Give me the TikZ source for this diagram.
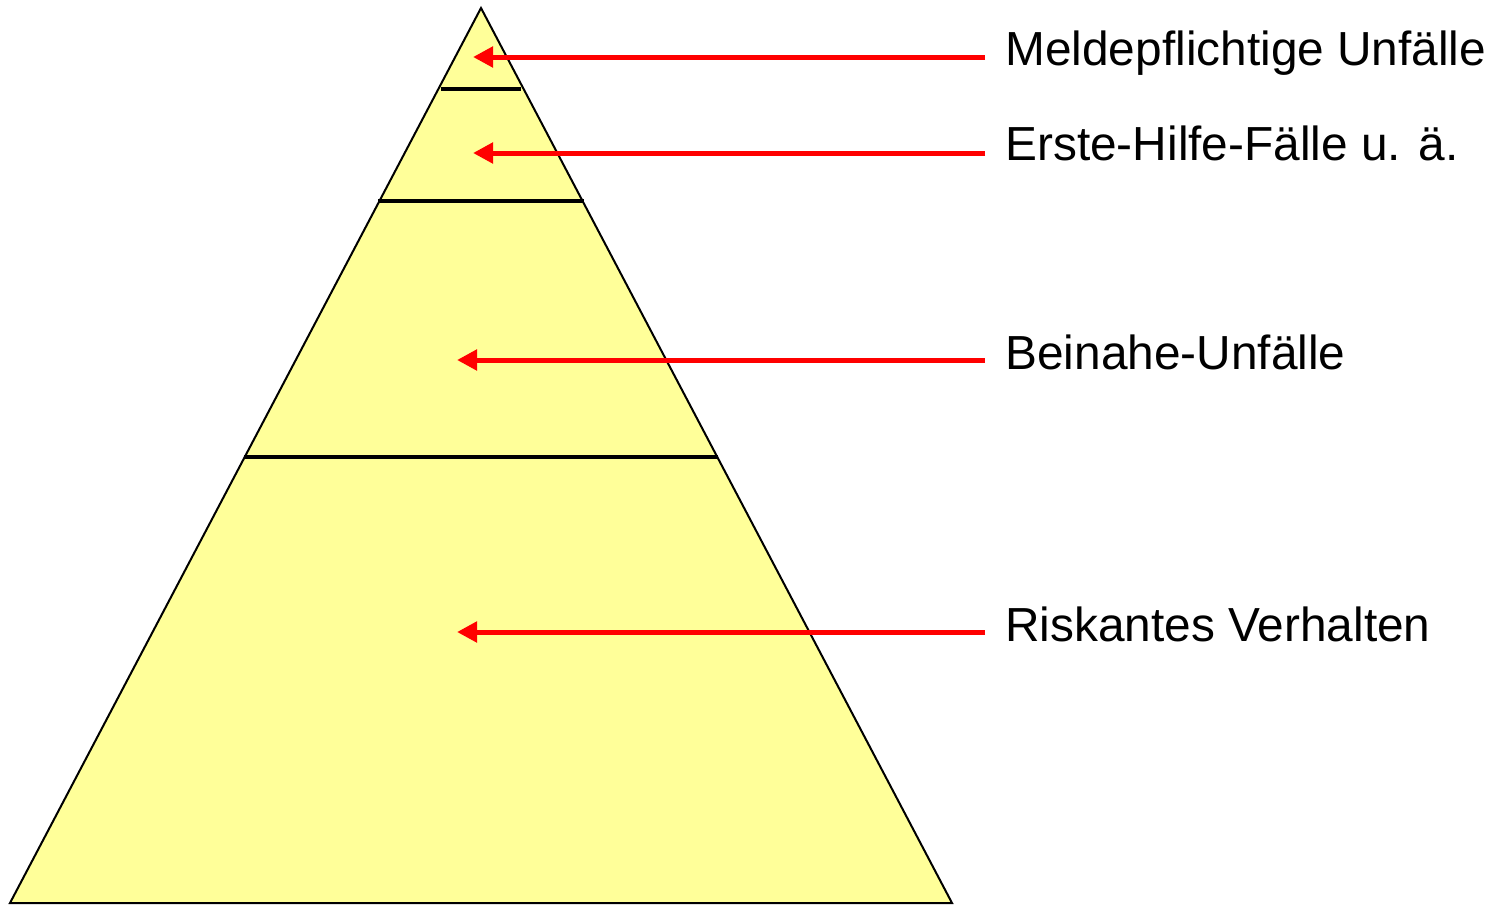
\documentclass[tikz,border=0pt]{standalone}
\usepackage{fontspec}
\setmainfont{Liberation Sans}
\usetikzlibrary{arrows.meta}
\definecolor{pyr}{HTML}{FFFF99}
\begin{document}
\begin{tikzpicture}[x=0.5pt,y=-0.5pt,
  pyramid/.style={fill=pyr,draw=black,line width=1pt,line join=miter},
  divider/.style={draw=black,line width=2.4pt},
  redarrow/.style={draw=red,line width=2.5pt,-{Triangle[length=10pt,width=10pt]}},
  label/.style={anchor=base west,inner sep=0pt,font=\fontsize{23.9pt}{28pt}\selectfont}]
\useasboundingbox (0,0) rectangle (1493,905);
\coordinate (apex) at (481,8);
\coordinate (bl) at (10,903);
\coordinate (br) at (952,903);
\path[pyramid] (apex) -- (bl) -- (br) -- cycle;
\coordinate (d1l) at (441,89); \coordinate (d1r) at (521,89);
\coordinate (d2l) at (378,201); \coordinate (d2r) at (584,201);
\coordinate (d3l) at (244,457); \coordinate (d3r) at (718,457);
\draw[divider] (d1l) -- (d1r);
\draw[divider] (d2l) -- (d2r);
\draw[divider] (d3l) -- (d3r);
\node[label] (l1) at (1005,65) {Meldepflichtige Unfälle};
\node[label] (l2) at (1005,160) {Erste-Hilfe-Fälle u. ä.};
\node[label] (l3) at (1005,369) {Beinahe-Unfälle};
\node[label] (l4) at (1005,641) {Riskantes Verhalten};
\coordinate (s1) at (985,57); \coordinate (t1) at (473,57);
\coordinate (s2) at (985,153); \coordinate (t2) at (473,153);
\coordinate (s3) at (985,360); \coordinate (t3) at (457,360);
\coordinate (s4) at (985,632); \coordinate (t4) at (457,632);
\draw[redarrow] (s1) -- (t1);
\draw[redarrow] (s2) -- (t2);
\draw[redarrow] (s3) -- (t3);
\draw[redarrow] (s4) -- (t4);
\end{tikzpicture}
\end{document}
